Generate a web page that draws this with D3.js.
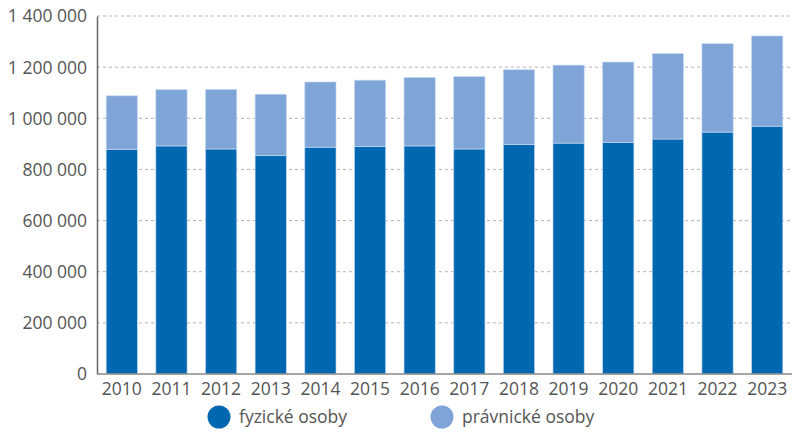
<!DOCTYPE html>
<html><head><meta charset="utf-8">
<script src="https://cdn.jsdelivr.net/npm/d3@7"></script>
<style>body{margin:0;background:#fff}svg{display:block}text{font-family:"Open Sans","Noto Sans",sans-serif;fill:#555}</style>
</head><body>
<svg id="c" width="800" height="437"></svg>
<script>
const years = ["2010","2011","2012","2013","2014","2015","2016","2017","2018","2019","2020","2021","2022","2023"];
const fyzicke = [879000,892000,880000,854000,887000,890000,892000,880000,897000,903000,906000,919000,946000,969000];
const pravnicke = [209000,220000,233000,240000,255000,259000,268000,283000,293000,305000,314000,334000,346000,353000];
const yTicks = [0,200000,400000,600000,800000,1000000,1200000,1400000];
const seriesNames = ["fyzické osoby","právnické osoby"];
const colors = ["#0067b1","#7fa4d7"];

const svg = d3.select("#c");
const mLeft = 97, mRight = 792, mTop = 16, mBottom = 374;
const x = d3.scaleBand().domain(years).range([mLeft,mRight]).paddingInner(0.37).paddingOuter(0.185);
const y = d3.scaleLinear().domain([0,1400000]).range([mBottom,mTop]);
const fmt = v => d3.format(",")(v).replace(/,/g," ");

// gridlines
svg.append("g").selectAll("line").data(yTicks.filter(d=>d>0)).join("line")
  .attr("x1",mLeft).attr("x2",mRight).attr("y1",d=>y(d)).attr("y2",d=>y(d))
  .attr("stroke","#b3b3b3").attr("stroke-width",1).attr("stroke-dasharray","3,3");

const data = years.map((yr,i)=>({year:yr,fyz:fyzicke[i],prav:pravnicke[i]}));
const stack = d3.stack().keys(["fyz","prav"])(data);
svg.append("g").selectAll("g").data(stack).join("g")
  .attr("fill",(d,i)=>colors[i])
  .selectAll("rect").data(d=>d).join("rect")
  .attr("x",d=>x(d.data.year)).attr("width",x.bandwidth())
  .attr("y",d=>y(d[1])).attr("height",d=>y(d[0])-y(d[1]))
  .attr("stroke","rgba(200,220,245,0.8)").attr("stroke-width",0.8);

// y axis
const ya = svg.append("g").attr("transform",`translate(${mLeft},0)`)
  .call(d3.axisLeft(y).tickValues(yTicks).tickFormat(fmt).tickSize(0).tickPadding(10));
ya.select(".domain").attr("stroke","#666").attr("stroke-width",1.5);
ya.selectAll("text").style("font-size","17.5px").attr("fill","#555").attr("dy","0.34em");

// x axis
const xa = svg.append("g").attr("transform",`translate(0,${mBottom})`)
  .call(d3.axisBottom(x).tickSize(0).tickPadding(9));
xa.select(".domain").attr("stroke","#888").attr("stroke-width",1.5).attr("d",`M${mLeft},0H${mRight}`);
xa.selectAll("text").style("font-size","17.5px").attr("fill","#555");

// legend
const legX = [219,442];
const lg = svg.append("g").selectAll("g").data(seriesNames).join("g")
  .attr("transform",(d,i)=>`translate(${legX[i]},417)`);
lg.append("circle").attr("r",11.5).attr("fill",(d,i)=>colors[i]);
lg.append("text").attr("x",20).attr("y",6).style("font-size","17.5px").attr("fill","#555").text(d=>d);
</script>
</body></html>
